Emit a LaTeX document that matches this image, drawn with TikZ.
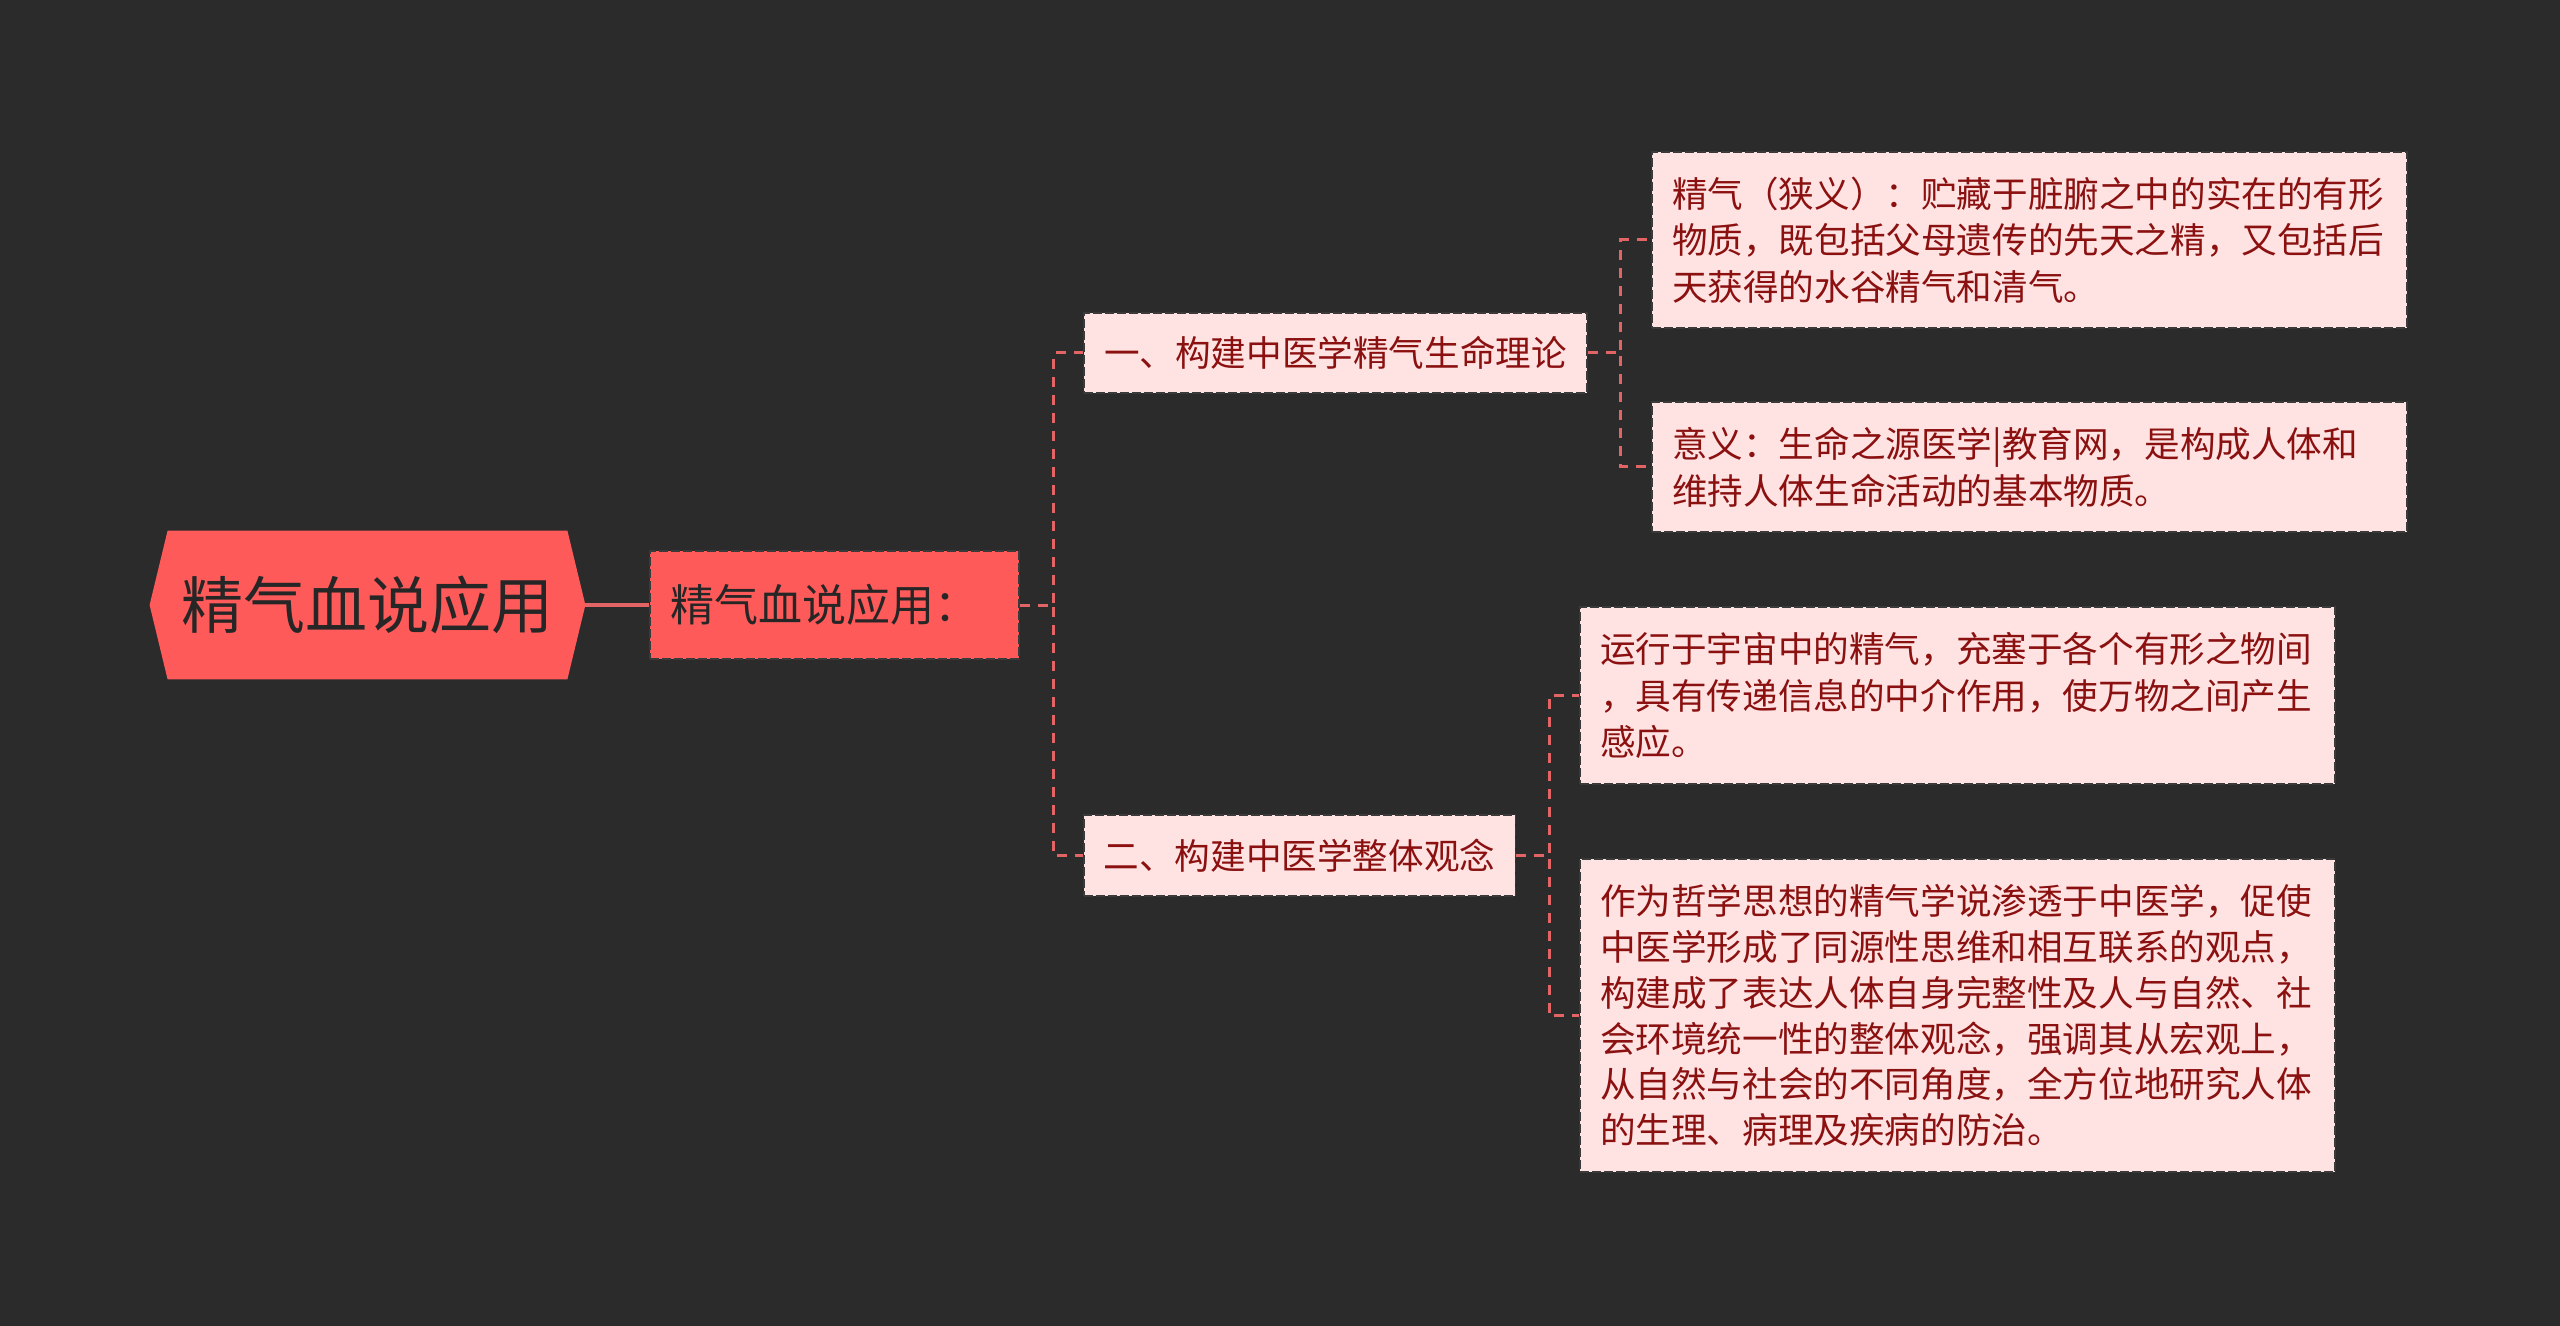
\documentclass[tikz,border=0pt]{standalone}
\usepackage{fontspec}
\setmainfont{Noto Sans CJK SC}
\definecolor{bg}{HTML}{2B2B2B}
\definecolor{rootfill}{HTML}{FF5A5A}
\definecolor{leaffill}{HTML}{FFE3E3}
\definecolor{leaftext}{HTML}{8B1111}
\definecolor{conncol}{HTML}{E36464}
\definecolor{bordercol}{HTML}{3A3A3A}
\tikzset{
  boxstyle/.style={draw=bordercol, line width=0.8pt, dash pattern=on 4.5pt off 1.5pt,
     inner xsep=10pt, inner ysep=0pt, align=left, anchor=center},
  midbox/.style={boxstyle, fill=rootfill, text=black!85, font=\fontsize{22pt}{26pt}\selectfont},
  lvlbox/.style={boxstyle, fill=leaffill, text=leaftext, font=\fontsize{17.8pt}{23pt}\selectfont},
  leafbox/.style={boxstyle, fill=leaffill, text=leaftext, font=\fontsize{17.8pt}{23.3pt}\selectfont, text width=357.5pt},
  conn/.style={draw=conncol, line width=1.5pt, dash pattern=on 5pt off 4pt},
  rootconn/.style={draw=conncol, line width=2pt},
}
\begin{document}
\begin{tikzpicture}[x=0.5pt,y=-0.5pt]
\fill[bg] (0,0) rectangle (2560,1326);
\useasboundingbox (0,0) rectangle (2560,1326);

% root
\node[minimum width=217.5pt, minimum height=74pt, inner sep=0pt] (root) at (367.5,605) {};
\fill[rootfill] (root.west) -- ([xshift=9pt]root.north west) -- ([xshift=-9pt]root.north east)
  -- (root.east) -- ([xshift=-9pt]root.south east) -- ([xshift=9pt]root.south west) -- cycle;
\node[font=\fontsize{31pt}{36pt}\selectfont, text=black!85] at (root.center) {精气血说应用};

% level 1
\node[midbox, minimum width=184.5pt, minimum height=54pt, text width=164.5pt] (n1) at (834.5,605) {精气血说应用：};

% level 2
\node[lvlbox, minimum width=251.5pt, minimum height=40pt] (a) at (1335.5,353) {一、构建中医学精气生命理论};
\node[lvlbox, minimum width=215.5pt, minimum height=40.5pt] (b) at (1299.5,855.5) {二、构建中医学整体观念};

% leaves
\node[leafbox, minimum height=88pt] (l1) at (2029.5,240) {精气（狭义）：贮藏于脏腑之中的实在的有形\\物质，既包括父母遗传的先天之精，又包括后\\天获得的水谷精气和清气。};
\node[leafbox, minimum height=65pt] (l2) at (2029.5,467) {意义：生命之源医学|教育网，是构成人体和\\维持人体生命活动的基本物质。};
\node[leafbox, minimum height=88.5pt] (l3) at (1957.5,695.5) {运行于宇宙中的精气，充塞于各个有形之物间\\，具有传递信息的中介作用，使万物之间产生\\感应。};
\node[leafbox, minimum height=156.5pt, font=\fontsize{17.8pt}{22.9pt}\selectfont] (l4) at (1957.5,1015.5) {作为哲学思想的精气学说渗透于中医学，促使\\中医学形成了同源性思维和相互联系的观点，\\构建成了表达人体自身完整性及人与自然、社\\会环境统一性的整体观念，强调其从宏观上，\\从自然与社会的不同角度，全方位地研究人体\\的生理、病理及疾病的防治。};

% connectors
\draw[rootconn] (root.east) -- (n1.west);
\draw[conn] (n1.east) -- ++(34,0) |- (a.west);
\draw[conn] (n1.east) -- ++(34,0) |- (b.west);
\draw[conn] (a.east) -- ++(33,0) |- (l1.west);
\draw[conn] (a.east) -- ++(33,0) |- (l2.west);
\draw[conn] (b.east) -- ++(33,0) |- (l3.west);
\draw[conn] (b.east) -- ++(33,0) |- (l4.west);
\end{tikzpicture}
\end{document}
